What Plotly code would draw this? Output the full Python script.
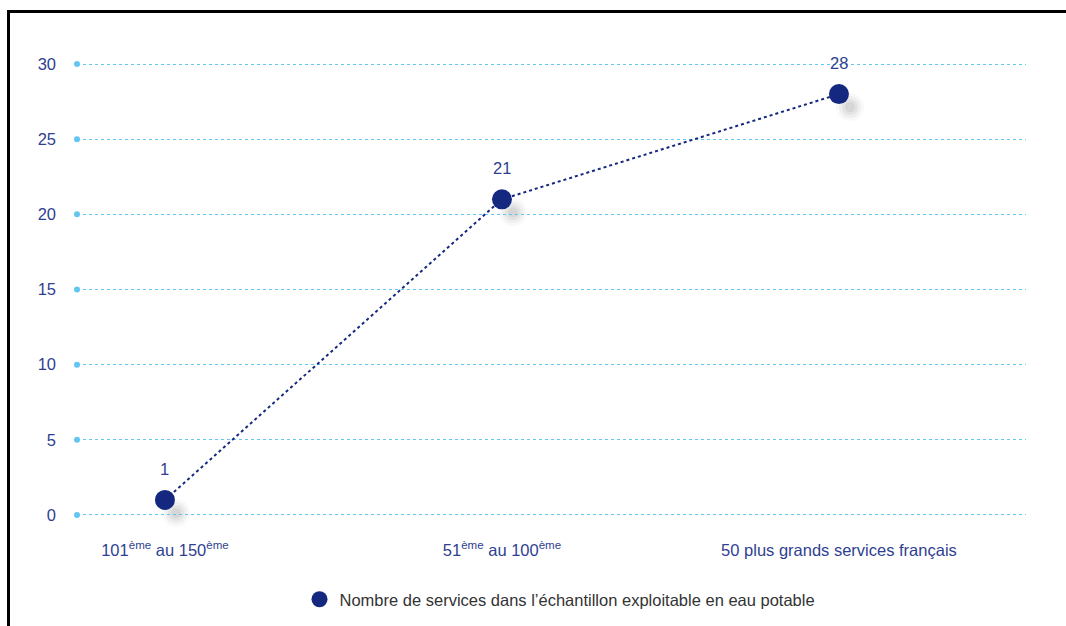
import plotly.graph_objects as go

# Data
categories = ["101<sup>ème</sup> au 150<sup>ème</sup>",
              "51<sup>ème</sup> au 100<sup>ème</sup>",
              "50 plus grands services français"]
services = [1, 21, 28]
y_ticks = [0, 5, 10, 15, 20, 25, 30]
series_name = "Nombre de services dans l’échantillon exploitable en eau potable"

NAVY = "#15287f"
LABEL_BLUE = "#2f3f92"
GRID_BLUE = "#62c6f0"
FONT = "Liberation Sans"
FS = 16.5

W, H = 1066, 626
ML, MR, MT, MB = 77, 40, 49, 99
x_range = [-0.261, 2.555]
y_range = [-0.8, 31]
plot_w = W - ML - MR
plot_h = H - MT - MB


def px_to_paper_x(px):
    return (px - ML) / plot_w


def px_to_paper_y(py):
    return (H - MB - py) / plot_h


x_idx = list(range(len(categories)))

fig = go.Figure()

# soft drop shadows behind the markers (stacked translucent discs)
for xi, v in zip(x_idx, services):
    for r, a in [(14, 0.04), (11, 0.06), (8, 0.08), (5, 0.09)]:
        fig.add_shape(type="circle", xref="x", yref="y",
                      xsizemode="pixel", ysizemode="pixel",
                      xanchor=xi, yanchor=v,
                      x0=11 - r, x1=11 + r, y0=-13 - r, y1=-13 + r,
                      fillcolor=f"rgba(90,90,90,{a})", line=dict(width=0),
                      layer="below")

# tick dots at the left end of each gridline
fig.add_trace(go.Scatter(
    x=[x_range[0]] * len(y_ticks), y=y_ticks, mode="markers",
    marker=dict(size=6, color=GRID_BLUE), showlegend=False,
    hoverinfo="skip", cliponaxis=False))

# main series
fig.add_trace(go.Scatter(
    x=x_idx, y=services, mode="lines+markers", name=series_name,
    line=dict(color=NAVY, width=2, dash="dot"),
    marker=dict(size=20, color=NAVY), showlegend=False, cliponaxis=False))

# legend entry (marker only)
fig.add_trace(go.Scatter(
    x=[None], y=[None], mode="markers", name=series_name,
    marker=dict(size=18, color=NAVY), showlegend=True))

# value labels
for xi, v in zip(x_idx, services):
    fig.add_annotation(x=xi, y=v, xref="x", yref="y", text=str(v), showarrow=False,
                       yshift=31, font=dict(size=FS, color=LABEL_BLUE, family=FONT))

# outer frame (left and top rules)
frame = dict(color="black", width=3)
fig.add_shape(type="line", xref="paper", yref="paper",
              x0=px_to_paper_x(8.5), x1=px_to_paper_x(8.5),
              y0=px_to_paper_y(10), y1=px_to_paper_y(640), line=frame)
fig.add_shape(type="line", xref="paper", yref="paper",
              x0=px_to_paper_x(7), x1=px_to_paper_x(1070),
              y0=px_to_paper_y(11.5), y1=px_to_paper_y(11.5), line=frame)

fig.update_layout(
    width=W, height=H,
    margin=dict(l=ML, r=MR, t=MT, b=MB, pad=0, autoexpand=False),
    paper_bgcolor="white", plot_bgcolor="white",
    font=dict(family=FONT, size=FS, color=LABEL_BLUE),
    xaxis=dict(
        range=x_range, tickmode="array", tickvals=x_idx, ticktext=categories,
        showgrid=False, zeroline=False, showline=False, ticks="",
        tickfont=dict(size=FS, color=LABEL_BLUE, family=FONT),
        ticklabelstandoff=11, fixedrange=True),
    yaxis=dict(
        range=y_range, tickmode="array", tickvals=y_ticks,
        showgrid=True, gridcolor=GRID_BLUE, griddash="dot", gridwidth=1.2,
        zeroline=False, showline=False, ticks="",
        tickfont=dict(size=FS, color=LABEL_BLUE, family=FONT),
        ticklabelstandoff=20, fixedrange=True),
    legend=dict(orientation="h", x=px_to_paper_x(560), xanchor="center",
                y=px_to_paper_y(582), yanchor="top",
                font=dict(size=FS, color="#333333", family=FONT),
                itemsizing="trace", bgcolor="rgba(0,0,0,0)"),
    showlegend=True,
)

fig.write_html("out.html")
